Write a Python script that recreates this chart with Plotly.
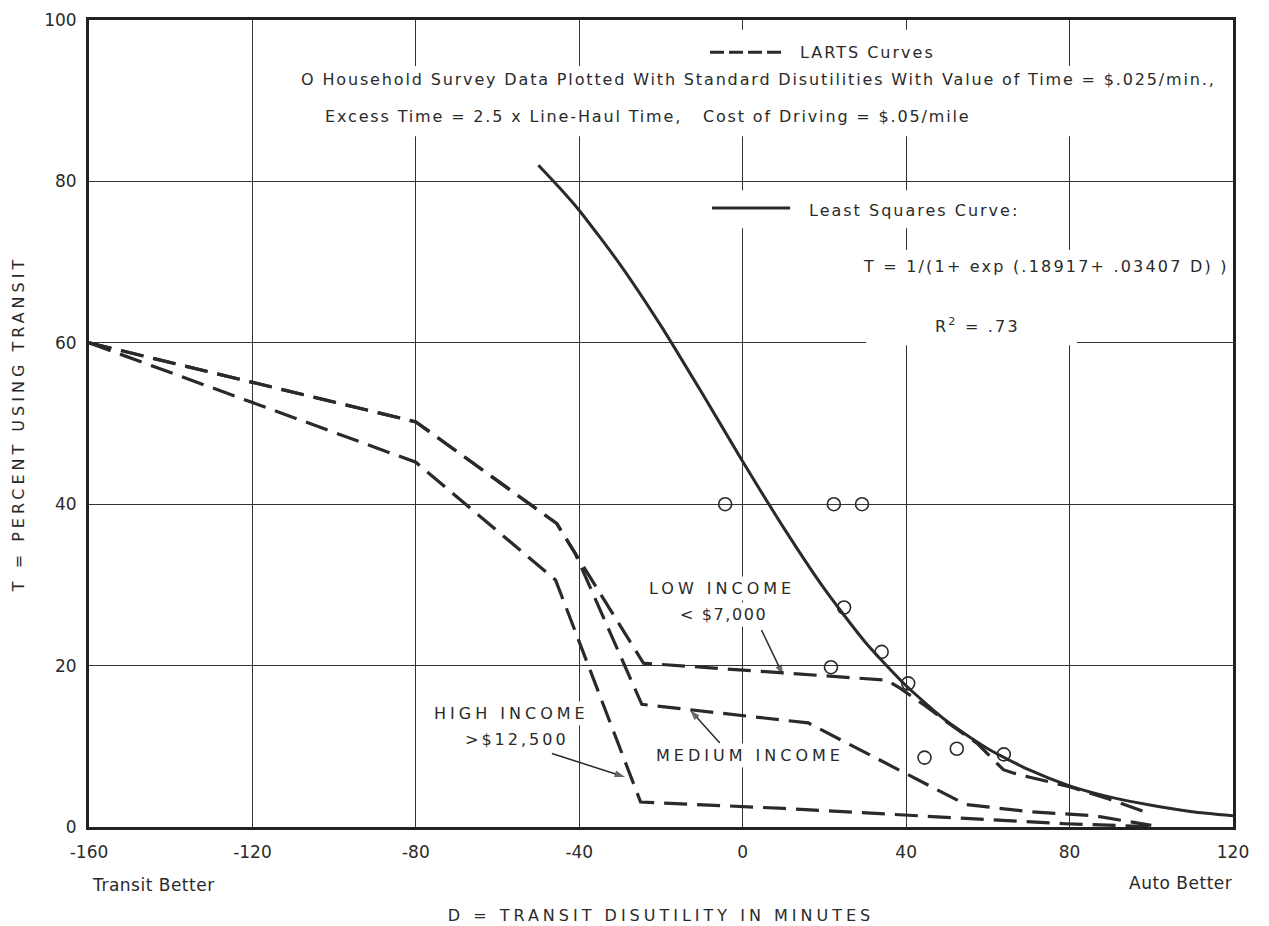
import plotly.graph_objects as go

# ---- data -------------------------------------------------------------
# Least squares curve  T = 1/(1+exp(.18917+.03407 D)), tabulated in percent
lsq_d = [-50, -45, -40, -30, -20, -10, 0, 10, 20, 30, 40, 50, 60, 70, 80, 90, 100, 110, 120]
lsq_t = [82.0, 79.3, 76.4, 69.7, 62.1, 53.8, 45.3, 37.1, 29.5, 22.9, 17.5, 13.1, 9.7, 7.1, 5.1, 3.7, 2.7, 1.9, 1.4]

# LARTS curves by income group
low_d = [-160, -80, -45.5, -24.3, 35.2, 38.5, 45, 50, 57.3, 63.8, 66.2, 70, 80, 90, 100]
low_t = [60, 50.2, 37.6, 20.3, 18.2, 17.2, 14.9, 13.0, 10.4, 7.1, 6.7, 6.2, 5.0, 3.4, 1.6]

med_d = [-160, -80, -45.5, -41, -24.7, 16, 54.5, 70, 86, 100]
med_t = [60, 50.2, 37.6, 33.9, 15.2, 12.9, 2.8, 1.9, 1.4, 0.2]

high_d = [-160, -80, -45.8, -25, 10, 48, 68, 79, 100]
high_t = [60, 45.2, 30.6, 3.1, 2.3, 1.3, 0.7, 0.4, 0.05]

# Household survey observations
survey_d = [-4.3, 22.3, 29.2, 24.8, 34.0, 21.6, 40.5, 44.5, 52.4, 63.9]
survey_t = [40.0, 40.0, 40.0, 27.2, 21.7, 19.8, 17.8, 8.6, 9.7, 9.0]

x_ticks = [-160, -120, -80, -40, 0, 40, 80, 120]
x_tick_labels = ["-160", "-120", "-80", "-40", "0", "40", "80", "120"]
y_ticks = [0, 20, 40, 60, 80, 100]
y_tick_labels = ["0", "20", "40", "60", "80", "100"]

# ---- styling ------------------------------------------------------------
INK = "#2a2a2a"
FONT = "DejaVu Sans"
DASH = "23px,10px"


def spaced(text, px):
    return f'<span style="letter-spacing:{px}px">{text}</span>'


fig = go.Figure()

for d, t in [(high_d, high_t), (med_d, med_t), (low_d, low_t)]:
    fig.add_trace(go.Scatter(
        x=d, y=t, mode="lines",
        line=dict(color=INK, width=3.2, dash=DASH),
        hoverinfo="skip", showlegend=False,
    ))

fig.add_trace(go.Scatter(
    x=lsq_d, y=lsq_t, mode="lines",
    line=dict(color=INK, width=3, shape="spline", smoothing=0.6),
    showlegend=False,
))

fig.add_trace(go.Scatter(
    x=survey_d, y=survey_t, mode="markers",
    marker=dict(symbol="circle-open", size=13, color=INK, line=dict(width=1.6, color=INK)),
    showlegend=False,
))

# white panels behind the key text (hide grid lines, stay under the traces)
panels = [
    (-10.5, 52.0, 94.1, 98.8),
    (-110.3, 118.7, 85.6, 94.3),
    (-10.5, 56.8, 74.2, 78.9),
    (26.3, 118.7, 66.8, 71.5),
    (30.2, 81.8, 59.7, 66.8),
]
for x0, x1, y0, y1 in panels:
    fig.add_shape(type="rect", x0=x0, x1=x1, y0=y0, y1=y1, xref="x", yref="y",
                  fillcolor="white", line=dict(width=0), layer="between")

# key line samples
fig.add_shape(type="line", x0=-8, x1=10.4, y0=96.0, y1=96.0, xref="x", yref="y",
              line=dict(color=INK, width=3, dash="14px,5px"))
fig.add_shape(type="line", x0=-7.5, x1=11.6, y0=76.7, y1=76.7, xref="x", yref="y",
              line=dict(color=INK, width=3))


def note(x, y, text, xanchor="left", size=16, bg="white", **kw):
    fig.add_annotation(x=x, y=y, xref=kw.pop("xref", "x"), yref=kw.pop("yref", "y"),
                       text=text, showarrow=False, xanchor=xanchor, yanchor="middle",
                       font=dict(family=FONT, size=size, color=INK),
                       bgcolor=bg, borderpad=2, **kw)


note(13.3, 96.0, spaced("LARTS Curves", 2))
note(-108.8, 92.6, spaced("O Household Survey Data Plotted With Standard Disutilities "
                          "With Value of Time = $.025/min.,", 1.85))
note(-103.0, 88.1, spaced("Excess Time = 2.5 x Line-Haul Time,&nbsp;&nbsp; "
                          "Cost of Driving = $.05/mile", 1.85))
note(15.5, 76.4, spaced("Least Squares Curve:", 2))
note(28.7, 69.4, spaced("T = 1/(1+ exp (.18917+ .03407 D) )", 2.2))
note(46.3, 62.2, spaced("R<sup>2</sup> = .73", 2.2))

note(-5.0, 29.6, spaced("LOW INCOME", 4), xanchor="center")
note(-4.8, 26.3, spaced("&lt; $7,000", 1.6), xanchor="center")
note(1.8, 8.9, spaced("MEDIUM INCOME", 4), xanchor="center")
note(-56.5, 14.1, spaced("HIGH INCOME", 4), xanchor="center")
note(-55.3, 10.8, spaced("&gt;$12,500", 3), xanchor="center")

# pointer arrows (tail -> head) from the income labels to their curves
pointers = [((4.6, 24.4), (9.9, 18.8)), ((-5.6, 10.4), (-12.9, 14.5)), ((-46.7, 9.1), (-28.8, 6.2))]
for (tx, ty), (hx, hy) in pointers:
    fig.add_trace(go.Scatter(
        x=[tx, hx], y=[ty, hy], mode="lines+markers",
        line=dict(color=INK, width=1.5),
        marker=dict(symbol=["circle", "arrow"], size=[0, 11], angleref="previous",
                    color=INK, line=dict(width=0)),
        hoverinfo="skip", showlegend=False,
    ))

# end-of-axis captions
note(0.0, -0.0719, spaced("Transit Better", 0.5), xanchor="left", size=17,
     bg="rgba(0,0,0,0)", xref="paper", yref="paper")
note(1.0017, -0.0694, spaced("Auto Better", 0.5), xanchor="right", size=17,
     bg="rgba(0,0,0,0)", xref="paper", yref="paper")

axis_common = dict(
    showgrid=True, gridcolor="#333333", gridwidth=1.4,
    showline=True, linecolor="#222222", linewidth=3, mirror=True,
    zeroline=False, ticks="outside", tickcolor="rgba(0,0,0,0)",
    tickfont=dict(family=FONT, size=17, color=INK),
)

fig.update_xaxes(range=[-160, 120], tickvals=x_ticks, ticktext=x_tick_labels,
                 ticklen=8,
                 title=dict(text=spaced("D = TRANSIT DISUTILITY IN MINUTES", 4),
                            font=dict(family=FONT, size=16, color=INK), standoff=49),
                 **axis_common)
fig.update_yaxes(range=[0, 100], tickvals=y_ticks, ticktext=y_tick_labels,
                 ticklen=6,
                 title=dict(text=spaced("T = PERCENT USING TRANSIT", 4),
                            font=dict(family=FONT, size=16, color=INK), standoff=16),
                 **axis_common)

fig.update_layout(
    width=1269, height=926,
    margin=dict(l=89, r=36, t=20, b=99, autoexpand=False),
    plot_bgcolor="white", paper_bgcolor="white",
    showlegend=False,
)

fig.write_html("out.html")
